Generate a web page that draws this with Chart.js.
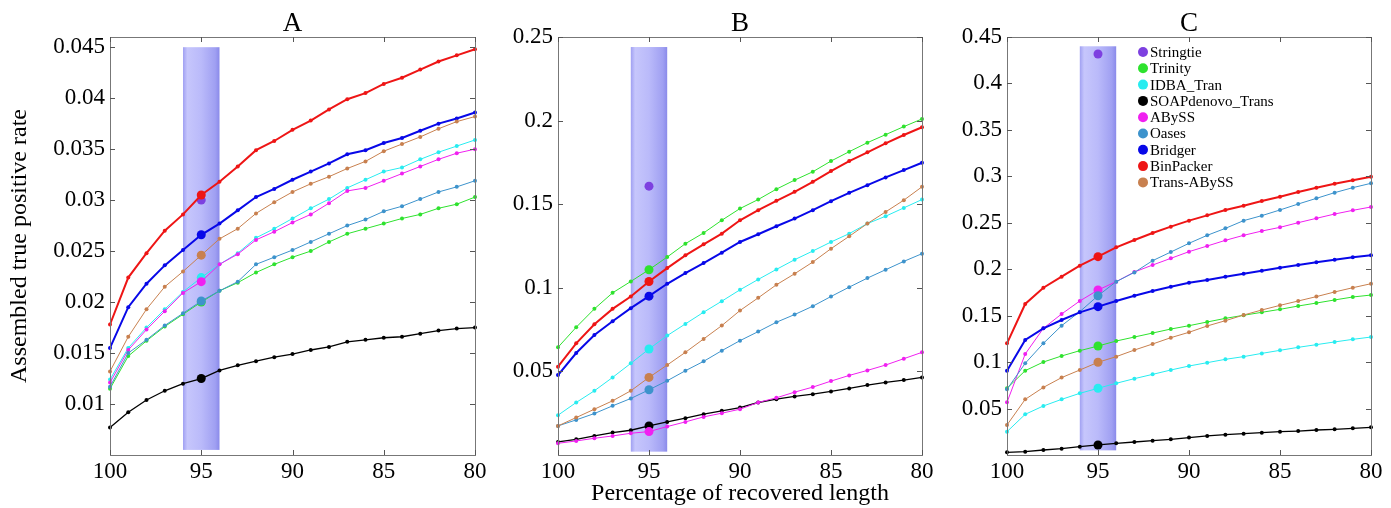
<!DOCTYPE html>
<html>
<head>
<meta charset="utf-8">
<script src="https://cdn.jsdelivr.net/npm/chart.js@4.4.1/dist/chart.umd.min.js"></script>
<style>
  html, body { margin: 0; padding: 0; background: #fff; }
  body { width: 1391px; height: 508px; position: relative; overflow: hidden; }
  canvas { position: absolute; top: 0; }
</style>
</head>
<body>
<canvas id="chartA" width="500" height="508" style="left:0px"></canvas>
<canvas id="chartB" width="470" height="508" style="left:478px"></canvas>
<canvas id="chartC" width="461" height="508" style="left:930px"></canvas>
<script>
// x = percentage of recovered length, 100 down to 80
const xValues = [100, 99, 98, 97, 96, 95, 94, 93, 92, 91, 90, 89, 88, 87, 86, 85, 84, 83, 82, 81, 80];
const xTicks = [100, 95, 90, 85, 80];
const highlightX = 95;
const bandX = [96, 94];

const seriesNames = ['Stringtie', 'Trinity', 'IDBA_Tran', 'SOAPdenovo_Trans', 'ABySS', 'Oases', 'Bridger', 'BinPacker', 'Trans-ABySS'];
const seriesColors = ['#7d40e0', '#2ee22e', '#28ecf0', '#000000', '#f020f0', '#3d93cc', '#0808e8', '#ee1515', '#c8804f'];
const lineWidths = [0, 1, 1, 1.3, 1, 1, 2, 2, 1];

// Stringtie only has a value at 95%
const stringtieA = 0.0300;
const stringtieB = 0.1608;
const stringtieC = 0.4317;

// panel A
const trinityA = [0.0115, 0.0147, 0.0162, 0.0176, 0.0188, 0.0200, 0.0211, 0.0219, 0.0229, 0.0237, 0.0244, 0.0250, 0.0259, 0.0267, 0.0272, 0.0277, 0.0282, 0.0286, 0.0292, 0.0296, 0.0303];
const idbaA = [0.0124, 0.0155, 0.0175, 0.0193, 0.0210, 0.0224, 0.0237, 0.0248, 0.0263, 0.0272, 0.0282, 0.0292, 0.0301, 0.0312, 0.0320, 0.0328, 0.0332, 0.0340, 0.0347, 0.0353, 0.0359];
const soapA = [0.0077, 0.0092, 0.0104, 0.0113, 0.0120, 0.0125, 0.0133, 0.0138, 0.0142, 0.0146, 0.0149, 0.0153, 0.0156, 0.0161, 0.0163, 0.0165, 0.0166, 0.0169, 0.0172, 0.0174, 0.0175];
const abyssA = [0.0121, 0.0153, 0.0173, 0.0191, 0.0209, 0.0220, 0.0237, 0.0247, 0.0261, 0.0269, 0.0278, 0.0286, 0.0297, 0.0309, 0.0312, 0.0319, 0.0326, 0.0333, 0.0340, 0.0346, 0.0350];
const oasesA = [0.0117, 0.0150, 0.0163, 0.0177, 0.0189, 0.0201, 0.0211, 0.0220, 0.0237, 0.0244, 0.0251, 0.0259, 0.0267, 0.0275, 0.0281, 0.0289, 0.0294, 0.0301, 0.0308, 0.0313, 0.0319];
const bridgerA = [0.0155, 0.0195, 0.0218, 0.0236, 0.0251, 0.0266, 0.0277, 0.0290, 0.0303, 0.0311, 0.0320, 0.0328, 0.0336, 0.0345, 0.0349, 0.0356, 0.0361, 0.0368, 0.0375, 0.0380, 0.0386];
const binpackerA = [0.0178, 0.0224, 0.0248, 0.0270, 0.0286, 0.0305, 0.0318, 0.0333, 0.0349, 0.0358, 0.0369, 0.0378, 0.0389, 0.0399, 0.0405, 0.0414, 0.0420, 0.0428, 0.0436, 0.0442, 0.0448];
const transabyssA = [0.0132, 0.0166, 0.0193, 0.0215, 0.0230, 0.0246, 0.0262, 0.0272, 0.0287, 0.0298, 0.0308, 0.0316, 0.0323, 0.0331, 0.0338, 0.0348, 0.0355, 0.0362, 0.0370, 0.0377, 0.0382];

// panel B
const trinityB = [0.0644, 0.0764, 0.0874, 0.0970, 0.1038, 0.1108, 0.1184, 0.1264, 0.1328, 0.1404, 0.1474, 0.1528, 0.1590, 0.1644, 0.1694, 0.1758, 0.1814, 0.1868, 0.1916, 0.1964, 0.2010];
const idbaB = [0.0238, 0.0314, 0.0384, 0.0464, 0.0548, 0.0634, 0.0714, 0.0784, 0.0854, 0.0920, 0.0988, 0.1050, 0.1110, 0.1168, 0.1220, 0.1274, 0.1324, 0.1384, 0.1428, 0.1478, 0.1528];
const soapB = [0.0078, 0.0094, 0.0114, 0.0134, 0.0148, 0.0174, 0.0198, 0.0220, 0.0244, 0.0264, 0.0284, 0.0314, 0.0334, 0.0350, 0.0364, 0.0380, 0.0398, 0.0418, 0.0434, 0.0448, 0.0464];
const abyssB = [0.0070, 0.0084, 0.0100, 0.0114, 0.0130, 0.0140, 0.0170, 0.0198, 0.0228, 0.0250, 0.0274, 0.0314, 0.0342, 0.0376, 0.0406, 0.0442, 0.0476, 0.0506, 0.0538, 0.0576, 0.0614];
const oasesB = [0.0174, 0.0210, 0.0248, 0.0294, 0.0338, 0.0390, 0.0444, 0.0504, 0.0560, 0.0624, 0.0684, 0.0738, 0.0794, 0.0840, 0.0890, 0.0948, 0.1004, 0.1058, 0.1108, 0.1158, 0.1204];
const bridgerB = [0.0478, 0.0610, 0.0718, 0.0800, 0.0878, 0.0950, 0.1024, 0.1088, 0.1148, 0.1210, 0.1274, 0.1320, 0.1368, 0.1414, 0.1464, 0.1518, 0.1568, 0.1614, 0.1660, 0.1704, 0.1748];
const binpackerB = [0.0528, 0.0668, 0.0782, 0.0874, 0.0948, 0.1038, 0.1118, 0.1194, 0.1260, 0.1324, 0.1404, 0.1464, 0.1520, 0.1574, 0.1634, 0.1698, 0.1758, 0.1810, 0.1864, 0.1914, 0.1960];
const transabyssB = [0.0174, 0.0224, 0.0274, 0.0324, 0.0384, 0.0464, 0.0538, 0.0614, 0.0694, 0.0774, 0.0864, 0.0940, 0.1018, 0.1084, 0.1154, 0.1234, 0.1308, 0.1384, 0.1454, 0.1524, 0.1604];

// panel C
const trinityC = [0.0718, 0.0908, 0.1001, 0.1066, 0.1123, 0.1173, 0.1227, 0.1270, 0.1313, 0.1356, 0.1392, 0.1432, 0.1471, 0.1504, 0.1536, 0.1568, 0.1604, 0.1636, 0.1669, 0.1701, 0.1722];
const idbaC = [0.0251, 0.0438, 0.0528, 0.0599, 0.0664, 0.0718, 0.0772, 0.0822, 0.0868, 0.0915, 0.0958, 0.0994, 0.1030, 0.1059, 0.1094, 0.1127, 0.1159, 0.1188, 0.1217, 0.1245, 0.1270];
const soapC = [0.0029, 0.0036, 0.0054, 0.0068, 0.0090, 0.0108, 0.0126, 0.0140, 0.0154, 0.0169, 0.0188, 0.0205, 0.0219, 0.0230, 0.0240, 0.0251, 0.0258, 0.0269, 0.0276, 0.0287, 0.0298];
const abyssC = [0.0567, 0.1087, 0.1364, 0.1518, 0.1658, 0.1776, 0.1866, 0.1970, 0.2045, 0.2117, 0.2189, 0.2250, 0.2311, 0.2365, 0.2411, 0.2451, 0.2501, 0.2548, 0.2594, 0.2634, 0.2670];
const oasesC = [0.0707, 0.0987, 0.1202, 0.1392, 0.1543, 0.1715, 0.1866, 0.1966, 0.2092, 0.2185, 0.2279, 0.2365, 0.2440, 0.2523, 0.2577, 0.2638, 0.2702, 0.2763, 0.2824, 0.2878, 0.2925];
const bridgerC = [0.0908, 0.1238, 0.1364, 0.1453, 0.1536, 0.1597, 0.1658, 0.1715, 0.1766, 0.1812, 0.1855, 0.1884, 0.1920, 0.1952, 0.1984, 0.2017, 0.2045, 0.2074, 0.2103, 0.2128, 0.2150];
const binpackerC = [0.1202, 0.1626, 0.1801, 0.1920, 0.2038, 0.2135, 0.2236, 0.2315, 0.2390, 0.2458, 0.2523, 0.2580, 0.2638, 0.2684, 0.2734, 0.2781, 0.2831, 0.2878, 0.2921, 0.2957, 0.2996];
const transabyssC = [0.0323, 0.0599, 0.0728, 0.0833, 0.0915, 0.0998, 0.1059, 0.1130, 0.1195, 0.1263, 0.1321, 0.1389, 0.1446, 0.1507, 0.1561, 0.1611, 0.1658, 0.1705, 0.1755, 0.1801, 0.1844];

// y tick labels per panel
const yTicksA = [0.01, 0.015, 0.02, 0.025, 0.03, 0.035, 0.04, 0.045];
const yTicksB = [0.05, 0.1, 0.15, 0.2, 0.25];
const yTicksC = [0.05, 0.1, 0.15, 0.2, 0.25, 0.3, 0.35, 0.4, 0.45];

Chart.defaults.font.family = "'Liberation Serif', 'Times New Roman', serif";
Chart.defaults.color = '#000';

// shaded column around 95%
const bandPlugin = {
  id: 'band',
  beforeDatasetsDraw(chart) {
    const band = chart.options.plugins.band;
    const xs = chart.scales.x, ys = chart.scales.y;
    const x0 = xs.getPixelForValue(bandX[0]);
    const x1 = xs.getPixelForValue(bandX[1]);
    const y0 = ys.getPixelForValue(band.yRange[1]);
    const y1 = ys.getPixelForValue(band.yRange[0]);
    const ctx = chart.ctx;
    const g = ctx.createLinearGradient(x0, 0, x1, 0);
    g.addColorStop(0, 'rgb(160,160,242)');
    g.addColorStop(0.12, 'rgb(198,198,252)');
    g.addColorStop(0.5, 'rgb(186,186,250)');
    g.addColorStop(0.88, 'rgb(160,160,242)');
    g.addColorStop(1, 'rgb(138,138,234)');
    ctx.save();
    ctx.fillStyle = g;
    ctx.fillRect(x0, y0, x1 - x0, y1 - y0);
    ctx.restore();
  }
};

// matlab style box with inward ticks
const boxPlugin = {
  id: 'box',
  afterDatasetsDraw(chart) {
    const {ctx, chartArea: a} = chart;
    ctx.save();
    ctx.strokeStyle = '#777';
    ctx.lineWidth = 1;
    ctx.strokeRect(a.left + 0.5, a.top + 0.5, a.right - a.left, a.bottom - a.top);
    ctx.strokeStyle = '#555';
    ctx.beginPath();
    chart.scales.x.ticks.forEach(t => {
      const px = Math.round(chart.scales.x.getPixelForValue(t.value)) + 0.5;
      ctx.moveTo(px, a.bottom); ctx.lineTo(px, a.bottom - 5);
      ctx.moveTo(px, a.top); ctx.lineTo(px, a.top + 5);
    });
    chart.scales.y.ticks.forEach(t => {
      const py = Math.round(chart.scales.y.getPixelForValue(t.value)) + 0.5;
      ctx.moveTo(a.left, py); ctx.lineTo(a.left + 5, py);
      ctx.moveTo(a.right, py); ctx.lineTo(a.right - 5, py);
    });
    ctx.stroke();
    ctx.restore();
  }
};

// legend drawn inside panel C
const legendPlugin = {
  id: 'innerLegend',
  afterDraw(chart) {
    const {ctx, chartArea: a} = chart;
    ctx.save();
    ctx.font = "15px 'Liberation Serif', serif";
    ctx.textBaseline = 'middle';
    seriesNames.forEach((name, i) => {
      const y = a.top + 15 + i * 16.3;
      const x = a.left + 136;
      ctx.fillStyle = seriesColors[i];
      ctx.beginPath();
      ctx.arc(x, y, 5, 0, Math.PI * 2);
      ctx.fill();
      ctx.fillStyle = '#000';
      ctx.fillText(name, x + 7, y + 1);
    });
    ctx.restore();
  }
};

function makeDatasets(stringtie, lists) {
  const sets = [{
    label: seriesNames[0],
    data: [{x: highlightX, y: stringtie}],
    showLine: false,
    backgroundColor: seriesColors[0],
    borderColor: seriesColors[0],
    pointRadius: 4.5,
    pointBorderWidth: 0,
    clip: false,
    order: seriesNames.length - 1
  }];
  lists.forEach((vals, k) => {
    const i = k + 1;
    sets.push({
      label: seriesNames[i],
      data: xValues.map((x, j) => ({x: x, y: vals[j]})),
      borderColor: seriesColors[i],
      backgroundColor: seriesColors[i],
      borderWidth: lineWidths[i],
      pointRadius: c => (c.raw && c.raw.x === highlightX ? 4.5 : 2),
      pointBorderWidth: 0,
      tension: 0,
      clip: false,
      order: seriesNames.length - 1 - i
    });
  });
  return sets;
}

function makePanel(id, letter, datasets, yMin, yMax, yTicks, yWidth, padRight, bandRange, showYTitle, showXTitle, extraPlugins) {
  return new Chart(document.getElementById(id), {
    type: 'line',
    data: {datasets: datasets},
    plugins: [bandPlugin, boxPlugin].concat(extraPlugins),
    options: {
      responsive: false,
      animation: false,
      events: [],
      layout: {padding: {left: 0, right: padRight, top: 0, bottom: 0}},
      plugins: {
        legend: {display: false},
        tooltip: {enabled: false},
        title: {
          display: true, text: letter, fullSize: false,
          font: {size: 27, weight: 'normal', lineHeight: 1},
          padding: {top: 10, bottom: 0}, color: '#000'
        },
        band: {yRange: bandRange}
      },
      scales: {
        x: {
          type: 'linear', min: 80, max: 100, reverse: true,
          afterBuildTicks: s => { s.ticks = xTicks.map(v => ({value: v})); },
          afterFit: s => { s.height = 53; },
          grid: {display: false, drawTicks: false},
          border: {display: false},
          ticks: {font: {size: 23}, padding: 3, maxRotation: 0, callback: v => String(v)},
          title: {
            display: showXTitle, text: 'Percentage of recovered length',
            font: {size: 24}, padding: {top: 0, bottom: 0}
          }
        },
        y: {
          type: 'linear', min: yMin, max: yMax,
          afterBuildTicks: s => { s.ticks = yTicks.map(v => ({value: v})); },
          afterFit: s => { s.width = yWidth; },
          grid: {display: false, drawTicks: false},
          border: {display: false},
          ticks: {font: {size: 23}, padding: 5, callback: v => String(Number(v.toFixed(4)))},
          title: {
            display: showYTitle, text: 'Assembled true positive rate',
            font: {size: 24}, padding: {top: 5, bottom: 0}
          }
        }
      }
    }
  });
}

makePanel('chartA', 'A',
  makeDatasets(stringtieA, [trinityA, idbaA, soapA, abyssA, oasesA, bridgerA, binpackerA, transabyssA]),
  0.005, 0.046, yTicksA, 110, 25, [0.0055, 0.045], true, false, []);

makePanel('chartB', 'B',
  makeDatasets(stringtieB, [trinityB, idbaB, soapB, abyssB, oasesB, bridgerB, binpackerB, transabyssB]),
  0, 0.25, yTicksB, 80, 26, [0.002, 0.244], false, true, []);

makePanel('chartC', 'C',
  makeDatasets(stringtieC, [trinityC, idbaC, soapC, abyssC, oasesC, bridgerC, binpackerC, transabyssC]),
  0, 0.45, yTicksC, 77, 20, [0.005, 0.44], false, false, [legendPlugin]);
</script>
</body>
</html>
